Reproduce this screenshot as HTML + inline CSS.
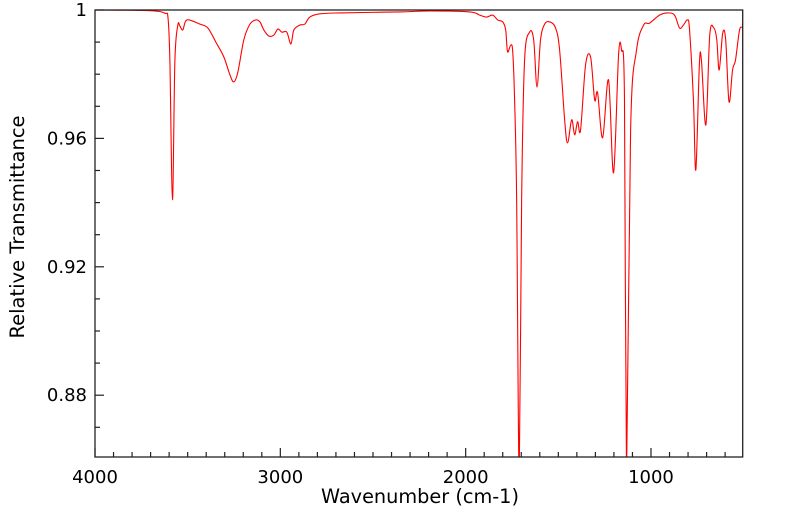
<!DOCTYPE html>
<html><head><meta charset="utf-8">
<style>
html,body{margin:0;padding:0;background:#fff;}
svg text{font-family:"DejaVu Sans","Liberation Sans",sans-serif;fill:#000;}
</style></head>
<body>
<svg id="chart" width="799" height="516" viewBox="0 0 799 516" xmlns="http://www.w3.org/2000/svg">
<g id="axes"></g>
<clipPath id="clip"><rect x="95" y="10" width="648" height="447"/></clipPath>
<path id="spectrum" fill="none" stroke="#ff0000" stroke-width="1.1" stroke-linejoin="round" clip-path="url(#clip)"/>
<rect x="95" y="10" width="647.7" height="447" fill="none" stroke="#222" stroke-width="1.3"/>
<text x="420" y="503" font-size="19.3" text-anchor="middle">Wavenumber (cm-1)</text>
<text x="0" y="0" font-size="19.5" text-anchor="middle" transform="translate(24,227) rotate(-90)">Relative Transmittance</text>
</svg>
<script>
const wavenumbers = [4000,3703,3623,3606,3596,3582,3569,3553,3542,3526,3504,3434,3391,3348,3305,3272,3251,3229,3197,3164,3132,3110,3089,3062,3035,3013,2992,2965,2943,2927,2895,2868,2841,2787,2679,2356,2194,1978,1924,1887,1854,1827,1800,1784,1774,1757,1746,1736,1725,1711,1698,1682,1655,1633,1615,1596,1574,1547,1515,1493,1466,1450,1428,1412,1396,1380,1353,1326,1304,1288,1261,1229,1202,1175,1159,1143,1132,1110,1078,1040,1008,954,911,873,846,825,803,792,771,758,739,728,704,683,661,645,632,613,597,579,560,544,522,505];
const transmittance = [1.0,0.9998,0.999,0.9975,0.9844,0.9409,0.984,0.9953,0.995,0.9938,0.9969,0.9956,0.9944,0.990,0.9854,0.9798,0.9776,0.9807,0.9907,0.9956,0.9969,0.9963,0.9938,0.9919,0.9922,0.9941,0.9931,0.9931,0.9894,0.9938,0.9953,0.9956,0.9978,0.9988,0.9991,0.9994,0.9997,0.9994,0.9984,0.9978,0.9984,0.9969,0.9963,0.9938,0.987,0.9891,0.987,0.972,0.941,0.855,0.941,0.9844,0.9931,0.9907,0.976,0.9907,0.9956,0.9963,0.9944,0.9875,0.9658,0.9586,0.9658,0.9611,0.9652,0.9626,0.9829,0.9854,0.972,0.9742,0.9602,0.9782,0.9493,0.986,0.9875,0.972,0.855,0.9626,0.9875,0.9953,0.9959,0.9984,0.9991,0.9984,0.9944,0.9953,0.9969,0.9938,0.972,0.9502,0.9829,0.9844,0.9642,0.9922,0.9944,0.9907,0.9813,0.9928,0.9907,0.9714,0.9813,0.9844,0.9938,0.9944];
const xTickLabels = [4000,3000,2000,1000];
const yTickLabels = ["1","0.96","0.92","0.88"];
const yTickValues = [1.0,0.96,0.92,0.88];

const X0=95, Y0=10, YB=457;
function xs(w){return X0+(4000-w)*0.18533;}
function ys(t){return Y0+(1-t)/0.04*128.4;}

const ns='http://www.w3.org/2000/svg';
const axes=document.getElementById('axes');
function line(x1,y1,x2,y2,name){
  const l=document.createElementNS(ns,'line');
  l.setAttribute('x1',x1);l.setAttribute('y1',y1);l.setAttribute('x2',x2);l.setAttribute('y2',y2);
  l.setAttribute('stroke','#222');l.setAttribute('stroke-width','1.2');
  
  
  axes.appendChild(l);
}
function text(x,y,s,anchor,name){
  const t=document.createElementNS(ns,'text');
  t.setAttribute('x',x);t.setAttribute('y',y);t.setAttribute('font-size','18');t.setAttribute('text-anchor',anchor);
  t.textContent=s;
  
  
  axes.appendChild(t);
}
for(let w=4000; w>=600; w-=100){
  const major = w%1000===0;
  line(xs(w),YB,xs(w),YB-(major?9:5),'x-tick');
}
xTickLabels.forEach(w=>text(xs(w),YB+26,String(w),'middle','x-tick-label'));
for(let k=0;k<=13;k++){
  const t=1-k*0.01;
  const major = k%4===0;
  line(X0,ys(t),X0+(major?9:5),ys(t),'y-tick');
}
yTickValues.forEach((v,i)=>text(X0-8,ys(v)+6,yTickLabels[i],'end','y-tick-label'));

const pts=wavenumbers.map((w,i)=>[xs(w),ys(transmittance[i])]);
let d='M'+pts[0][0].toFixed(2)+','+pts[0][1].toFixed(2);
for(let i=0;i<pts.length-1;i++){
  const p0=pts[Math.max(0,i-1)],p1=pts[i],p2=pts[i+1],p3=pts[Math.min(pts.length-1,i+2)];
  const k=1/6;
  const c1x=p1[0]+(p2[0]-p0[0])*k, c1y=p1[1]+(p2[1]-p0[1])*k;
  const c2x=p2[0]-(p3[0]-p1[0])*k, c2y=p2[1]-(p3[1]-p1[1])*k;
  d+='C'+c1x.toFixed(2)+','+c1y.toFixed(2)+' '+c2x.toFixed(2)+','+c2y.toFixed(2)+' '+p2[0].toFixed(2)+','+p2[1].toFixed(2);
}
document.getElementById('spectrum').setAttribute('d',d);
</script>
</body></html>
